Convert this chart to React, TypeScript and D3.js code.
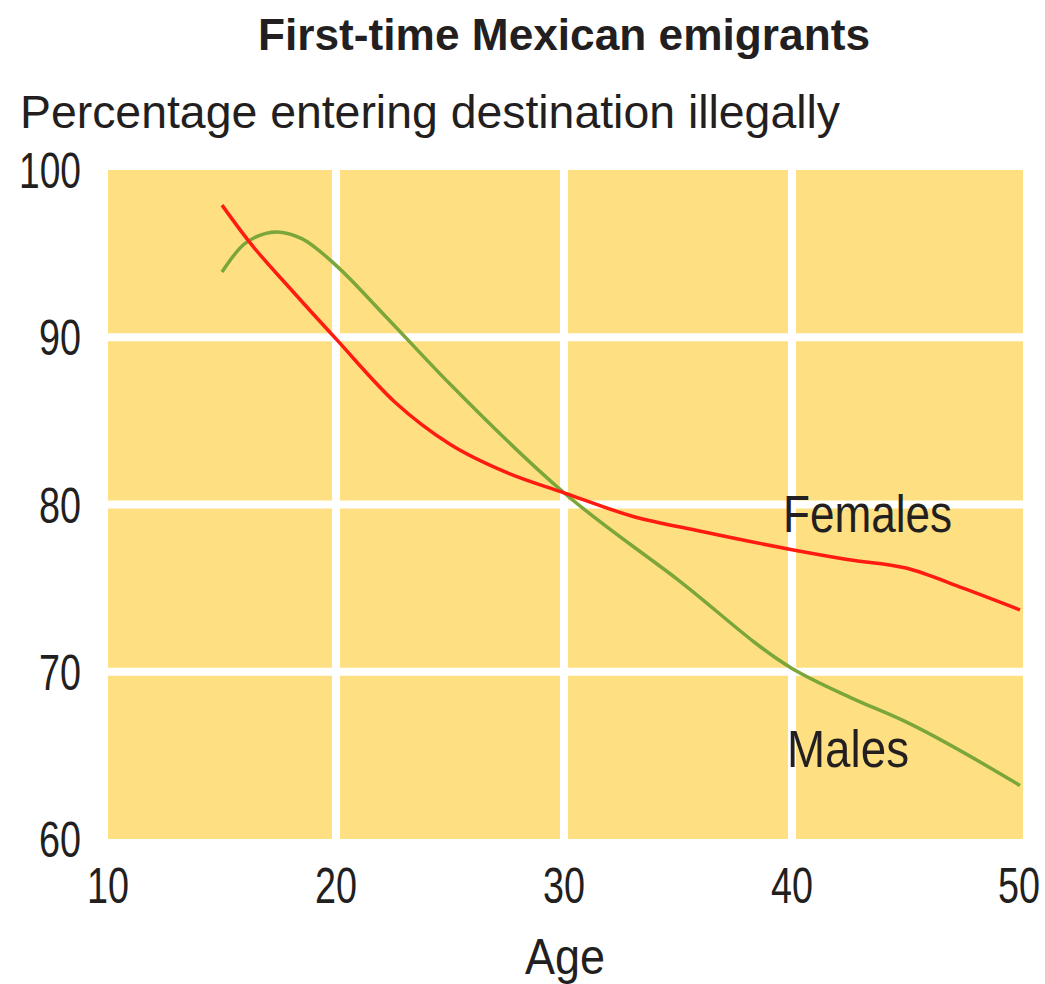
import React from "react";
import * as d3 from "d3";

const title = "First-time Mexican emigrants";
const yTitle = "Percentage entering destination illegally";
const xTitle = "Age";
const xTicks = [10, 20, 30, 40, 50];
const yTicks = [60, 70, 80, 90, 100];

const femaleAges = [15, 16.2, 18, 20, 22.6, 25, 27.5, 30, 33, 36, 40, 42.5, 45, 47.5, 50];
const femaleValues = [97.9, 95.7, 92.9, 89.9, 86.1, 83.6, 81.9, 80.7, 79.3, 78.4, 77.3, 76.7, 76.2, 75.0, 73.7];

const maleAges = [15, 16, 17.4, 18.5, 20, 22, 25, 30, 35, 40, 42.5, 45, 50];
const maleValues = [93.9, 95.6, 96.3, 95.9, 94.3, 91.5, 87.2, 80.7, 75.5, 70.2, 68.5, 67.0, 63.2];

const seriesLabels = ["Females", "Males"];

const FONT = "'Liberation Sans Narrow', 'Liberation Sans', Arial, sans-serif";
const INK = "#231f20";

export default function App() {
  const x = d3.scaleLinear().domain([10, 50]).range([108, 1020]);
  const y = d3.scaleLinear().domain([60, 100]).range([839, 170]);

  const line = d3
    .line<[number, number]>()
    .x((d) => x(d[0]))
    .y((d) => y(d[1]))
    .curve(d3.curveMonotoneX);

  const females = femaleAges.map((a, i) => [a, femaleValues[i]] as [number, number]);
  const males = maleAges.map((a, i) => [a, maleValues[i]] as [number, number]);
  const lastTick = xTicks[xTicks.length - 1];

  return (
    <svg
      width={1045}
      height={984}
      style={{ position: "absolute", left: 0, top: 0, background: "#fff" }}
      fontFamily={FONT}
    >
      <rect x={0} y={0} width={1045} height={984} fill="#fff" />
      <text x={564} y={50} textAnchor="middle" fontSize={45} fontWeight="bold" fill={INK} textLength={612} lengthAdjust="spacingAndGlyphs">
        {title}
      </text>
      <text x={20} y={128} fontSize={46} fill={INK} textLength={820} lengthAdjust="spacingAndGlyphs">
        {yTitle}
      </text>

      <rect x={x(10)} y={y(100)} width={x(50) + 3 - x(10)} height={y(60) - y(100)} fill="#fee082" />
      {xTicks.slice(1, -1).map((t) => (
        <line key={"gx" + t} x1={x(t)} x2={x(t)} y1={y(100)} y2={y(60)} stroke="#fff" strokeWidth={8} />
      ))}
      {yTicks.slice(1, -1).map((t) => (
        <line key={"gy" + t} x1={x(10)} x2={x(50) + 3} y1={y(t)} y2={y(t)} stroke="#fff" strokeWidth={8} />
      ))}

      <path d={line(males) || ""} fill="none" stroke="#7ba63a" strokeWidth={3.5} />
      <path d={line(females) || ""} fill="none" stroke="#ff1a12" strokeWidth={3.5} />

      {yTicks.map((t) => (
        <text key={"yl" + t} x={81} y={y(t) + 18} textAnchor="end" fontSize={50} fill={INK} textLength={t === 100 ? 62 : 42} lengthAdjust="spacingAndGlyphs">
          {t}
        </text>
      ))}
      {xTicks.map((t) => (
        <text
          key={"xl" + t}
          x={t === lastTick ? 1040 : x(t)}
          y={903}
          textAnchor={t === lastTick ? "end" : "middle"}
          fontSize={50}
          fill={INK}
          textLength={42}
          lengthAdjust="spacingAndGlyphs"
        >
          {t}
        </text>
      ))}
      <text x={565} y={974} textAnchor="middle" fontSize={50} fill={INK} textLength={80} lengthAdjust="spacingAndGlyphs">
        {xTitle}
      </text>

      <text x={783} y={532} fontSize={51} fill={INK} textLength={169} lengthAdjust="spacingAndGlyphs">
        {seriesLabels[0]}
      </text>
      <text x={787} y={767} fontSize={51} fill={INK} textLength={122} lengthAdjust="spacingAndGlyphs">
        {seriesLabels[1]}
      </text>
    </svg>
  );
}
